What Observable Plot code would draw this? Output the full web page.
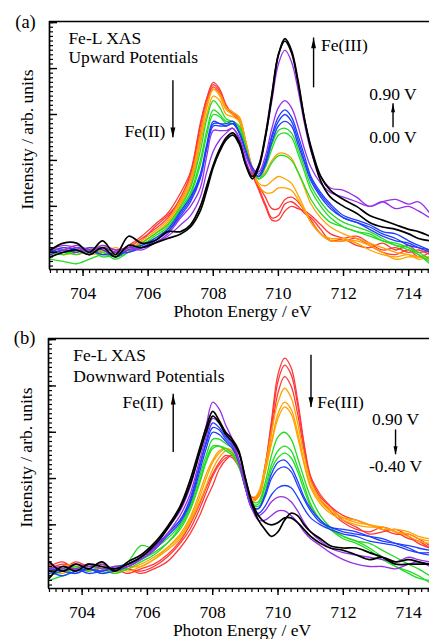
<!DOCTYPE html>
<html><head><meta charset="utf-8">
<script src="https://cdn.jsdelivr.net/npm/d3@7"></script>
<script src="https://cdn.jsdelivr.net/npm/@observablehq/plot@0.6"></script>
<style>
html,body{margin:0;padding:0;background:#fff;}
#wrap{position:relative;width:429px;height:639px;overflow:hidden;background:#fff;}
#pa{position:absolute;left:0;top:0;}
#pb{position:absolute;left:0;top:320px;}
svg{overflow:visible;}
</style></head><body><div id="wrap"><div id="pa"></div><div id="pb"></div></div>
<script>
// Photon energy grid (eV)
const energy = [703.0,703.4,703.8,704.2,704.6,705.0,705.4,705.8,706.2,706.6,707.0,707.3,707.6,707.8,708.0,708.2,708.4,708.6,708.8,709.0,709.2,709.4,709.6,709.8,710.0,710.2,710.4,710.6,710.8,711.0,711.3,711.6,712.0,712.4,712.8,713.2,713.6,714.0,714.3,714.65];

// (a) Upward potentials 0.00 V -> 0.90 V  (intensity, arb. units)
const upRed1 = [1,0,2,0,1, -1,2,6,10,15, 24,34,55,67,74, 71,64,60,58,47, 35,28,21,15,16, 21,22,20,17,15, 10,5,6,7,4, 1,2,0,1,-1];
const upRed2 = [-1,1,0,2,-1, 0,3,7,12,17, 26,35,56,67,73, 70,63,60,57,46, 34,27,20,14,14, 18,20,19,18,16, 12,8,6,3,2, 4,1,3,0,1];
const upRed3 = [2,-1,1,-1,2, 1,1,5,11,16, 23,32,52,65,72, 69,63,61,58,48, 36,29,24,19,19, 23,24,22,18,14, 8,5,5,6,3, 0,-1,1,-2,0];
const upOrange1 = [0,2,-1,1,3, 0,1,5,9,14, 23,32,51,64,71, 69,63,61,59,48, 36,29,26,26,28, 28,27,23,18,13, 8,5,5,5,3, 0,-3,-2,-2,-2];
const upOrange2 = [-2,0,1,-1,0, 2,0,4,8,13, 22,30,49,63,71, 68,62,60,58,48, 37,30,29,31,33, 32,30,25,19,13, 8,6,6,4,1, -1,-2,-1,-3,-2];
const upOrange3 = [1,-1,0,2,0, -1,1,4,8,12, 21,29,47,60,68, 66,60,59,57,47, 37,32,35,40,43, 43,41,35,28,21, 15,11,8,6,4, 2,0,-1,-2,-3];
const upGreen1 = [-3,-4,-5,-3,-1, -2,0,4,8,12, 20,28,44,58,66, 63,58,57,55,46, 36,32,34,39,42, 42,40,35,29,23, 17,13,11,9,7, 5,3,1,-1,-5];
const upGreen2 = [0,-1,1,0,0, -3,0,3,7,11, 19,26,40,53,62, 60,57,57,54,45, 36,32,37,45,51, 52,50,43,35,27, 20,15,11,9,8, 5,4,2,0,-3];
const upGreen3 = [-2,0,-1,1,-2, -1,1,3,6,10, 18,25,38,51,60, 59,56,56,53,44, 36,33,38,47,53, 54,52,45,37,29, 22,17,13,11,9, 6,3,2,-1,-4];
const upBlue1 = [1,0,2,1,-1, 0,2,3,6,10, 18,24,34,47,57, 56,56,57,52,44, 36,33,38,48,55, 57,55,47,39,31, 24,19,15,13,11, 8,6,3,2,1];
const upBlue2 = [-1,1,0,2,1, -2,1,2,5,9, 17,23,33,46,56, 56,55,56,52,44, 36,33,39,50,57, 60,57,49,40,32, 25,20,15,13,10, 7,5,4,2,0];
const upBlue3 = [0,2,1,-1,2, 0,0,2,5,9, 16,22,32,45,55, 55,55,56,52,44, 37,34,40,51,59, 62,59,51,42,33, 26,21,16,14,12, 9,8,5,3,1];
const upPurple1 = [2,1,3,1,2, 0,1,2,4,8, 15,20,28,42,53, 53,53,54,50,42, 36,35,42,54,63, 66,63,55,45,37, 30,26,24,22,20, 22,19,20,18,15];
const upPurple2 = [1,3,2,0,3, 1,2,1,4,7, 12,16,24,35,44, 49,52,54,49,40, 34,38,50,66,82, 88,83,71,56,44, 33,28,27,24,20, 22,23,21,22,17];
const upBlack1 = [1,4,4,0,5, -1,7,4,5,9, 9,12,20,29,38, 45,50,52,48,38, 32,37,50,68,86, 93,88,75,58,45, 31,24,20,17,13, 11,10,8,6,5];
const upBlack2 = [-2,0,1,-1,2, -2,3,2,4,6, 8,11,18,27,37, 44,49,51,47,38, 33,38,51,69,86, 92,87,74,58,46, 33,27,23,20,16, 14,12,10,9,7];

// (b) Downward potentials 0.90 V -> -0.40 V
const downRed1 = [2,4,1,3,0, 2,1,-1,1,4, 10,16,24,31,37, 44,48,50,47,39, 32,33,45,65,85, 92,88,74,55,41, 33,28,22,19,16, 17,18,15,12,10];
const downRed2 = [3,1,4,2,3, 0,1,0,2,6, 12,18,27,34,41, 46,49,50,46,38, 31,33,45,63,82, 89,85,72,54,40, 32,28,24,22,20, 18,16,16,14,11];
const downRed3 = [1,3,2,0,2, 1,-1,1,3,7, 13,20,29,36,42, 47,50,49,45,37, 31,32,43,60,77, 84,80,68,52,39, 31,26,21,18,17, 19,17,14,13,10];
const downOrange1 = [0,2,3,1,0, 2,0,2,5,9, 14,21,30,37,44, 49,52,51,46,37, 31,34,45,60,73, 79,75,64,50,39, 31,27,23,21,20, 19,17,16,14,13];
const downOrange2 = [2,0,1,3,1, -1,1,3,6,10, 15,22,32,40,47, 51,53,52,47,38, 31,33,43,56,68, 73,70,60,47,37, 30,26,23,22,20, 18,18,17,15,14];
const downOrange3 = [1,-1,2,0,2, 0,2,2,5,10, 16,23,34,42,48, 52,53,51,46,37, 30,32,42,55,66, 71,68,58,46,36, 29,25,22,20,19, 19,17,15,13,12];
const downGreen1 = [-4,-2,0,1,-1, 1,4,11,10,14, 20,28,41,50,57, 57,55,53,47,37, 30,30,38,50,58, 60,57,49,40,32, 24,19,15,13,10, 6,2,0,-2,-5];
const downGreen2 = [-2,0,2,0,2, 0,2,5,8,12, 18,26,38,47,53, 54,53,51,46,36, 29,29,36,46,52, 54,52,45,37,29, 22,18,15,13,12, 9,6,3,1,-2];
const downGreen3 = [0,1,-1,2,1, -1,1,4,7,12, 19,27,39,48,54, 54,52,50,45,36, 29,28,34,44,49, 51,49,43,35,28, 22,18,14,12,9, 5,2,-1,-3,-4];
const downBlue1 = [-1,0,1,-1,0, 1,3,6,10,16, 22,30,45,56,64, 62,58,55,48,37, 28,27,33,42,47, 48,45,39,32,27, 22,19,18,17,15, 13,12,11,10,9];
const downBlue2 = [0,-2,0,1,-1, 0,2,5,9,15, 21,29,43,53,60, 59,56,53,47,36, 28,27,32,40,44, 45,43,37,31,26, 21,19,17,16,15, 14,12,10,8,7];
const downBlue3 = [1,0,-1,1,0, 2,3,6,10,16, 22,31,46,55,62, 61,57,54,47,36, 27,25,28,33,36, 37,36,32,27,23, 20,18,16,15,13, 12,11,9,8,8];
const downPurple1 = [2,1,3,2,3, 1,3,6,10,18, 26,36,52,63,73, 70,63,57,48,36, 27,22,22,24,26, 26,24,21,17,14, 11,8,5,3,2, 2,1,3,4,2];
const downPurple2 = [1,2,1,3,1, 2,2,5,9,16, 24,33,48,58,66, 64,59,55,47,36, 27,24,26,30,32, 32,30,26,21,17, 13,10,8,7,6, 5,4,6,5,4];
const downBlack1 = [4,0,3,1,4, 0,4,7,12,19, 28,39,53,62,69, 65,60,57,52,40, 29,22,18,15,17, 22,25,24,20,17, 14,11,10,10,8, 6,3,3,3,3];
const downBlack2 = [-3,2,0,3,2, 1,3,6,11,18, 27,37,51,60,67, 64,59,56,51,40, 30,24,21,20,21, 23,23,21,18,15, 12,10,9,7,5, 6,4,5,4,3];

// Tick values
const xMajor = [704, 706, 708, 710, 712, 714];
const xMinor = d3.range(703, 714.65, 0.2);
const yMajor = [0, 20, 40, 60, 80, 100];
const yMinor = d3.range(-6, 100.5, 2);

const RED = "#ff3838", ORANGE = "#ffa200", GREEN = "#22dd22", BLUE = "#1f3dff", PURPLE = "#9630e8", BLACK = "#000000";

const upSeries = [
  ["r1", RED, upRed1], ["r2", RED, upRed2], ["r3", RED, upRed3],
  ["o1", ORANGE, upOrange1], ["o2", ORANGE, upOrange2], ["o3", ORANGE, upOrange3],
  ["g1", GREEN, upGreen1], ["g2", GREEN, upGreen2], ["g3", GREEN, upGreen3],
  ["b1", BLUE, upBlue1], ["b2", BLUE, upBlue2], ["b3", BLUE, upBlue3],
  ["p1", PURPLE, upPurple1], ["p2", PURPLE, upPurple2],
  ["k1", BLACK, upBlack1], ["k2", BLACK, upBlack2]
];
const downSeries = [
  ["r1", RED, downRed1], ["r2", RED, downRed2], ["r3", RED, downRed3],
  ["o1", ORANGE, downOrange1], ["o2", ORANGE, downOrange2], ["o3", ORANGE, downOrange3],
  ["g1", GREEN, downGreen1], ["g2", GREEN, downGreen2], ["g3", GREEN, downGreen3],
  ["b1", BLUE, downBlue1], ["b2", BLUE, downBlue2], ["b3", BLUE, downBlue3],
  ["p1", PURPLE, downPurple1], ["p2", PURPLE, downPurple2],
  ["k1", BLACK, downBlack1], ["k2", BLACK, downBlack2]
];

const upNotes = [
  {x: 703.55, y: 93.3, text: "Fe-L XAS", anchor: "start"},
  {x: 703.55, y: 84.7, text: "Upward Potentials", anchor: "start"},
  {x: 706.53, y: 52.6, text: "Fe(II)", anchor: "end"},
  {x: 711.31, y: 89.9, text: "Fe(III)", anchor: "start"},
  {x: 713.52, y: 68.6, text: "0.90 V", anchor: "middle"},
  {x: 713.52, y: 49.9, text: "0.00 V", anchor: "middle"}
];
const upArrows = [
  {x: 706.76, y1: 74.7, y2: 49.9, big: true},
  {x: 711.08, y1: 71.6, y2: 93.3, big: true},
  {x: 713.52, y1: 54.2, y2: 64.7, big: false}
];
const downNotes = [
  {x: 703.73, y: 93.3, text: "Fe-L XAS", anchor: "start"},
  {x: 703.73, y: 84.3, text: "Downward Potentials", anchor: "start"},
  {x: 706.49, y: 72.9, text: "Fe(II)", anchor: "end"},
  {x: 711.2, y: 73.0, text: "Fe(III)", anchor: "start"},
  {x: 713.6, y: 65.5, text: "0.90 V", anchor: "middle"},
  {x: 713.6, y: 45.2, text: "-0.40 V", anchor: "middle"}
];
const downArrows = [
  {x: 706.79, y1: 51.3, y2: 76.4, big: true},
  {x: 711.01, y1: 93.3, y2: 70.7, big: true},
  {x: 713.6, y1: 61.0, y2: 50.3, big: false}
];

const FONT = "'Liberation Serif', 'Times New Roman', serif";
const FS = 17.5;
// narrow filled arrow head, tip at the origin
const headUp = {draw(ctx, size) { const s = Math.sqrt(size); const h = s * 1.25, w = s * 0.6; ctx.moveTo(0, 0); ctx.lineTo(w / 2, h); ctx.lineTo(-w / 2, h); ctx.closePath(); }};
const headDown = {draw(ctx, size) { const s = Math.sqrt(size); const h = s * 1.25, w = s * 0.6; ctx.moveTo(0, 0); ctx.lineTo(w / 2, -h); ctx.lineTo(-w / 2, -h); ctx.closePath(); }};

function panel(el, cfg) {
  const data = cfg.series.flatMap(([id, color, vals]) => vals.map((v, i) => ({id, color, x: energy[i], y: v})));
  const colored = data.filter(d => d.color !== BLACK);
  const black = data.filter(d => d.color === BLACK);
  const xmin = 702.97, xmax = 714.64, ymin = -7.5, ymax = 100.5;
  const heads = [];
  for (const dir of ["up", "down"]) for (const big of [true, false]) {
    const sel = cfg.arrows.filter(a => (a.y2 > a.y1) === (dir === "up") && a.big === big);
    if (sel.length) heads.push(Plot.dot(sel, {x: "x", y: "y2", r: big ? 4.6 : 3.8, symbol: dir === "up" ? headUp : headDown, fill: "black", stroke: "none"}));
  }
  const notesBy = a => cfg.notes.filter(d => d.anchor === a);
  const chart = Plot.plot({
    width: 429, height: cfg.height,
    marginLeft: cfg.ml, marginRight: 0, marginTop: cfg.mt, marginBottom: 51,
    style: {fontFamily: FONT, fontSize: FS + "px", background: "transparent", color: "black", overflow: "visible"},
    x: {domain: [xmin, xmax], axis: null},
    y: {domain: [ymin, ymax], axis: null},
    color: {type: "identity"},
    marks: [
      Plot.line(colored, {x: "x", y: "y", z: "id", stroke: "color", strokeWidth: 1.3, curve: "catmull-rom", clip: true}),
      Plot.line(black, {x: "x", y: "y", z: "id", stroke: "color", strokeWidth: 1.7, curve: "catmull-rom", clip: true}),
      Plot.axisX({ticks: xMinor, tickSize: 4, tickFormat: () => "", label: null, strokeWidth: 1.2}),
      Plot.axisX({ticks: xMajor, tickSize: 7, tickPadding: 10, fontSize: FS, label: null, strokeWidth: 1.4}),
      Plot.axisY({ticks: yMinor, tickSize: -4, tickFormat: () => "", label: null, strokeWidth: 1.2}),
      Plot.axisY({ticks: yMajor, tickSize: -8, tickFormat: () => "", label: null, strokeWidth: 1.4}),
      Plot.ruleY([ymin], {strokeWidth: 1.7}),
      Plot.ruleY([ymax], {strokeWidth: 1.7}),
      Plot.ruleX([xmin], {strokeWidth: 1.7}),
      Plot.text(notesBy("start"), {x: "x", y: "y", text: "text", textAnchor: "start", fontSize: FS, fill: "black"}),
      Plot.text(notesBy("end"), {x: "x", y: "y", text: "text", textAnchor: "end", fontSize: FS, fill: "black"}),
      Plot.text(notesBy("middle"), {x: "x", y: "y", text: "text", textAnchor: "middle", fontSize: FS, fill: "black"}),
      Plot.ruleX(cfg.arrows, {x: "x", y1: "y1", y2: "y2", strokeWidth: 1.4}),
      ...heads,
      Plot.text([cfg.tag], {text: d => d, frameAnchor: "top-left", textAnchor: "middle", lineAnchor: "middle", dx: -24, dy: cfg.tagDy, fontSize: 18.5}),
      Plot.text(["Intensity / arb. units"], {text: d => d, frameAnchor: "left", textAnchor: "middle", lineAnchor: "middle", rotate: -90, dx: -22, dy: -6, fontSize: FS}),
      Plot.text(["Photon Energy / eV"], {text: d => d, frameAnchor: "bottom", textAnchor: "middle", lineAnchor: "middle", dx: 3, dy: 42, fontSize: FS})
    ]
  });
  el.appendChild(chart);
}

panel(document.getElementById("pa"), {series: upSeries, notes: upNotes, arrows: upArrows, tag: "(a)", tagDy: 1, height: 320, ml: 49, mt: 21});
panel(document.getElementById("pb"), {series: downSeries, notes: downNotes, arrows: downArrows, tag: "(b)", tagDy: 0, height: 319, ml: 48, mt: 18});
</script>
</body></html>
